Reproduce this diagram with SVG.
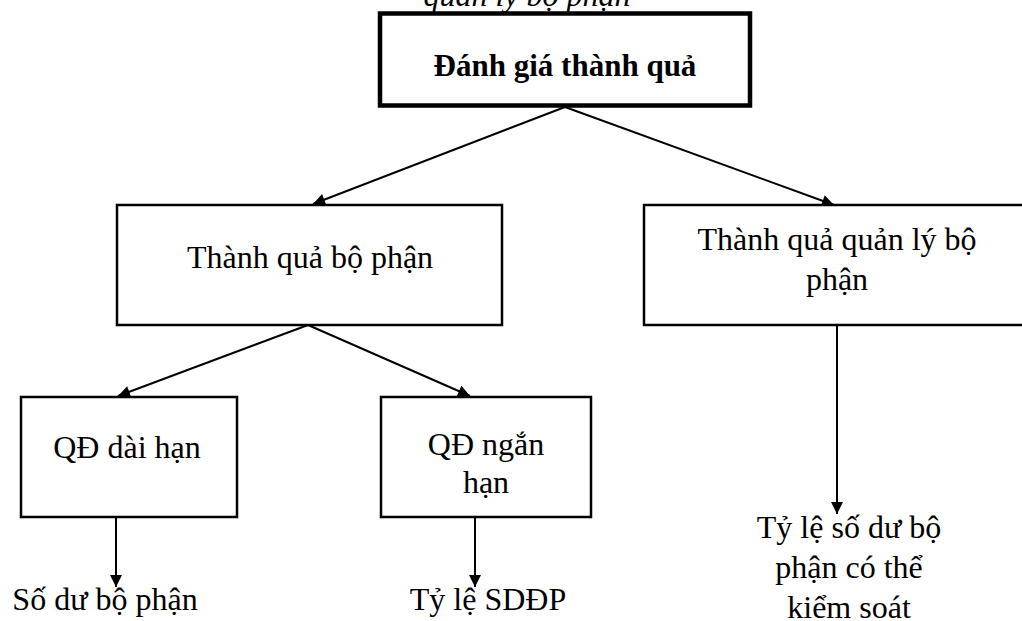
<svg xmlns="http://www.w3.org/2000/svg" width="1022" height="621" viewBox="0 0 1022 621">
<style>
.t{font-size:32px;text-anchor:middle}
.b{font-weight:bold;font-size:31px;text-anchor:middle}
.i{font-style:italic;font-size:32px;text-anchor:middle}
.box{fill:#fff;stroke:#000;stroke-width:2.5}
.thick{stroke-width:4.5}
.c{stroke:#000;stroke-width:2;fill:none;marker-end:url(#ah)}
</style>
<defs>
<marker id="ah" viewBox="0 0 10 10" refX="10" refY="5" markerWidth="13" markerHeight="12" markerUnits="userSpaceOnUse" orient="auto">
<path d="M0,0 L10,5 L0,10 z" fill="#000"/>
</marker>
</defs>
<rect width="1022" height="621" fill="#fff"/>
<text class="i" font-family="Liberation Serif" x="527" y="6">quản lý bộ phận</text>
<g id="connectors">
<line class="c" x1="565" y1="107" x2="313" y2="204"/>
<line class="c" x1="565" y1="107" x2="834" y2="205"/>
<line class="c" x1="308" y1="325" x2="118" y2="396"/>
<line class="c" x1="308" y1="325" x2="470" y2="396"/>
<line class="c" x1="116" y1="517" x2="116" y2="587"/>
<line class="c" x1="475" y1="517" x2="475" y2="587"/>
<line class="c" x1="837" y1="325" x2="837" y2="514"/>
</g>
<g id="n-top">
<rect class="box thick" x="380" y="13.5" width="370" height="92"/>
<text class="b" font-family="Liberation Serif" x="565" y="76">Đánh giá thành quả</text>
</g>
<g id="n-left">
<rect class="box" x="117" y="205" width="385" height="120"/>
<text class="t" font-family="Liberation Serif" x="310" y="268">Thành quả bộ phận</text>
</g>
<g id="n-right">
<rect class="box" x="644" y="205" width="390" height="120"/>
<text class="t" font-family="Liberation Serif" x="837" y="250">Thành quả quản lý bộ</text>
<text class="t" font-family="Liberation Serif" x="837" y="290">phận</text>
</g>
<g id="n-long">
<rect class="box" x="21" y="397" width="216" height="120"/>
<text class="t" font-family="Liberation Serif" x="127" y="458">QĐ dài hạn</text>
</g>
<g id="n-short">
<rect class="box" x="381" y="397" width="210" height="120"/>
<text class="t" font-family="Liberation Serif" x="486" y="455">QĐ ngắn</text>
<text class="t" font-family="Liberation Serif" x="486" y="493">hạn</text>
</g>
<g id="n-sodu">
<text class="t" font-family="Liberation Serif" x="105" y="610">Số dư bộ phận</text>
</g>
<g id="n-tyle">
<text class="t" font-family="Liberation Serif" x="488" y="610">Tỷ lệ SDĐP</text>
</g>
<g id="n-tyle2">
<text class="t" font-family="Liberation Serif" x="849" y="538">Tỷ lệ số dư bộ</text>
<text class="t" font-family="Liberation Serif" x="849" y="578">phận có thể</text>
<text class="t" font-family="Liberation Serif" x="849" y="618">kiểm soát</text>
</g>
</svg>
